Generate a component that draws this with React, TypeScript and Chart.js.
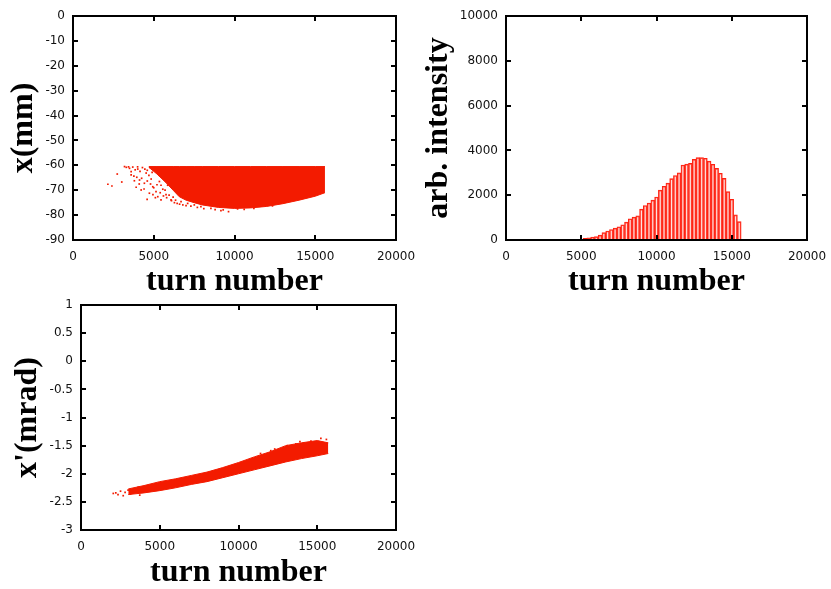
import React, { useEffect, useRef } from "react";
import { Chart, registerables } from "chart.js";

Chart.register(...registerables);

// ---------- data ----------
const RED = "#f31b00";

// Panel 1: x (mm) vs turn number — dense band edges + sparse points
const p1BandTurns = [4700, 5200, 5760, 6200, 6580, 7000, 7500, 8000, 9000, 10000, 11000, 12000, 13000, 14000, 15000, 15600];
const p1BandTop = [-60.5, -60.5, -60.5, -60.5, -60.5, -60.5, -60.5, -60.5, -60.5, -60.5, -60.5, -60.5, -60.5, -60.5, -60.5, -60.5];
const p1BandBottom = [-60.8, -63.5, -67, -70, -72.6, -74, -75, -75.9, -76.9, -77.3, -77.1, -76.5, -75.4, -74, -72.4, -71];
const p1SparseTurns = [
  2160, 2410, 2740, 3020, 3190, 3440, 3600, 3770, 3910, 4010, 4120, 4220, 4420, 4530, 4590, 4730, 4840, 4940, 5040, 5140,
  5250, 5350, 5450, 5560, 5620, 5760, 5860, 6070, 6280, 6520, 6690, 7100, 7510, 7920, 8540, 9160, 9630, 10190, 11520, 12350,
  3300, 3500, 3700, 3850, 4000, 4150, 4300, 4450, 4600, 4750, 4900, 3600, 3950, 4250, 4600, 4800, 5000, 5200, 5400, 5600,
  5700, 5800, 5950, 6100, 6200, 6350, 6450, 6600, 6800, 7000, 7300, 7700, 8100, 8800, 9300, 10600, 11200, 4400, 4100, 3800,
  5100, 4950, 5350, 5150, 4700, 5450,
];
const p1SparseX = [
  -67.6, -68.3, -63.5, -66.7, -60.5, -60.6, -62.5, -64.3, -68.8, -61.5, -65.9, -69.9, -67.2, -63.1, -73.7, -71.2, -65.5, -68.6, -61.9, -70.6,
  -72.6, -66.5, -73.9, -69.6, -65.2, -71.8, -68, -73.9, -75, -62.3, -74.6, -75.3, -75.9, -76.6, -77.3, -78.2, -78.6, -77.5, -75.9, -76.3,
  -60.8, -61.2, -60.7, -61.8, -60.6, -62.4, -60.9, -61.5, -62, -60.8, -62.8, -63.8, -64.8, -65.2, -66.3, -67.5, -69, -67.8, -71, -72.3,
  -70, -73, -72, -74.2, -72.8, -74, -75.3, -75.6, -75.9, -76.2, -76.4, -76.9, -77.4, -77.8, -77.9, -77.7, -77.3, -69.5, -67.5, -66.2,
  -73, -71.8, -64, -62.5, -64, -68,
];

// Panel 2: histogram, arb. intensity per bin of 250 turns
const histTurns = [5250, 5500, 5750, 6000, 6250, 6500, 6750, 7000, 7250, 7500, 7750, 8000, 8250, 8500, 8750, 9000, 9250, 9500, 9750, 10000, 10250, 10500, 10750, 11000, 11250, 11500, 11750, 12000, 12250, 12500, 12750, 13000, 13250, 13500, 13750, 14000, 14250, 14500, 14750, 15000, 15250, 15500];
const histCounts = [70, 100, 130, 150, 220, 330, 400, 470, 530, 590, 680, 800, 950, 1020, 1080, 1380, 1540, 1650, 1780, 1920, 2230, 2400, 2540, 2740, 2880, 3000, 3350, 3390, 3420, 3600, 3680, 3680, 3650, 3520, 3380, 3200, 2980, 2750, 2160, 1820, 1120, 820];

// Panel 3: x' (mrad) vs turn number
const p3BandTurns = [3000, 4000, 5000, 6000, 7000, 8000, 9000, 10000, 11000, 12000, 13000, 14000, 15000, 15700];
const p3BandTop = [-2.27, -2.21, -2.14, -2.09, -2.03, -1.97, -1.89, -1.8, -1.7, -1.61, -1.5, -1.45, -1.41, -1.45];
const p3BandBottom = [-2.37, -2.34, -2.3, -2.25, -2.19, -2.14, -2.07, -2, -1.93, -1.86, -1.79, -1.73, -1.68, -1.64];
const p3SparseTurns = [2050, 2210, 2510, 2680, 2990, 3140, 3350, 3630, 3730, 12050, 12690, 13640, 14170, 15230, 15580, 13100, 14600, 2800, 2350, 11400, 12300, 13900];
const p3SparseXp = [-2.35, -2.34, -2.31, -2.39, -2.29, -2.36, -2.32, -2.24, -2.38, -1.59, -1.6, -1.47, -1.46, -1.37, -1.39, -1.5, -1.42, -2.33, -2.37, -1.64, -1.56, -1.43];

// ---------- styling helpers ----------
const tickFont = { family: "'DejaVu Sans', sans-serif", size: 12 };
const titleFont = { family: "'Liberation Serif', 'DejaVu Serif', serif", size: 32, weight: "bold" as const, lineHeight: 1 };

const framePlugin = {
  id: "frame",
  afterDatasetsDraw(chart: any) {
    const { ctx, chartArea: a, scales } = chart;
    const L = 5;
    ctx.save();
    ctx.strokeStyle = "#000";
    ctx.lineWidth = 2;
    ctx.strokeRect(a.left, a.top, a.right - a.left, a.bottom - a.top);
    ctx.beginPath();
    scales.x.ticks.forEach((t: any) => {
      const px = Math.round(scales.x.getPixelForValue(t.value));
      ctx.moveTo(px, a.bottom);
      ctx.lineTo(px, a.bottom - L);
      ctx.moveTo(px, a.top);
      ctx.lineTo(px, a.top + L);
    });
    scales.y.ticks.forEach((t: any) => {
      const py = Math.round(scales.y.getPixelForValue(t.value));
      ctx.moveTo(a.left, py);
      ctx.lineTo(a.left + L, py);
      ctx.moveTo(a.right, py);
      ctx.lineTo(a.right - L, py);
    });
    ctx.stroke();
    ctx.restore();
  },
};

type Box = { w: number; h: number; left: number; top: number; right: number; bottom: number; yTitlePad: number };

function makeScales(box: Box, xTitle: string, yTitle: string, yMin: number, yMax: number, yStep: number) {
  return {
    x: {
      type: "linear",
      min: 0,
      max: 20000,
      offset: false,
      grid: { display: false, drawTicks: false },
      border: { display: false },
      ticks: {
        stepSize: 5000,
        padding: 10,
        font: tickFont,
        color: "#111",
        maxRotation: 0,
        autoSkip: false,
        callback: (v: any) => String(v),
      },
      title: { display: true, text: xTitle, font: titleFont, color: "#000", padding: 0 },
      afterFit: (s: any) => {
        s.height = box.h - box.bottom;
        s.paddingLeft = 0;
        s.paddingRight = 0;
      },
    },
    y: {
      type: "linear",
      min: yMin,
      max: yMax,
      grid: { display: false, drawTicks: false },
      border: { display: false },
      ticks: {
        stepSize: yStep,
        padding: 8,
        font: tickFont,
        color: "#111",
        autoSkip: false,
        callback: (v: any) => String(Math.round(v * 100) / 100),
      },
      title: { display: true, text: yTitle, font: titleFont, color: "#000", padding: { top: box.yTitlePad, bottom: 0 } },
      afterFit: (s: any) => {
        s.width = box.left;
        s.paddingTop = 0;
        s.paddingBottom = 0;
      },
    },
  };
}

function baseOptions(box: Box, scales: any) {
  return {
    responsive: false,
    animation: false,
    devicePixelRatio: 1,
    layout: { padding: { top: box.top, right: box.w - box.right, left: 0, bottom: 0 } },
    plugins: { legend: { display: false }, tooltip: { enabled: false } },
    scales,
  };
}

function pts(xs: number[], ys: number[]) {
  return xs.map((x, i) => ({ x, y: ys[i] }));
}

function bandDatasets(xs: number[], top: number[], bottom: number[]) {
  return [
    {
      type: "line",
      data: pts(xs, top),
      borderColor: RED,
      borderWidth: 1,
      backgroundColor: RED,
      pointRadius: 0,
      tension: 0,
      fill: false,
    },
    {
      type: "line",
      data: pts(xs, bottom),
      borderColor: RED,
      borderWidth: 1,
      backgroundColor: RED,
      pointRadius: 0,
      tension: 0,
      fill: "-1",
    },
  ];
}

const box1: Box = { w: 420, h: 298, left: 73, top: 16, right: 396, bottom: 240, yTitlePad: 8 };
const box2: Box = { w: 411, h: 298, left: 86, top: 16, right: 387, bottom: 240, yTitlePad: 3 };
const box3: Box = { w: 420, h: 294, left: 81, top: 10, right: 396, bottom: 235, yTitlePad: 12 };

function useChart(ref: React.RefObject<HTMLCanvasElement>, makeConfig: () => any) {
  useEffect(() => {
    if (!ref.current) return;
    const chart = new Chart(ref.current, makeConfig());
    return () => chart.destroy();
  }, []);
}

export default function App() {
  const c1 = useRef<HTMLCanvasElement>(null);
  const c2 = useRef<HTMLCanvasElement>(null);
  const c3 = useRef<HTMLCanvasElement>(null);

  useChart(c1, () => ({
    type: "scatter",
    data: {
      datasets: [
        ...bandDatasets(p1BandTurns, p1BandTop, p1BandBottom),
        {
          data: pts(p1SparseTurns, p1SparseX),
          pointStyle: "rect",
          pointRadius: 1.2,
          backgroundColor: RED,
          borderWidth: 0,
        },
      ],
    },
    options: baseOptions(box1, makeScales(box1, "turn number", "x(mm)", -90, 0, 10)),
    plugins: [framePlugin],
  }));

  useChart(c2, () => ({
    type: "bar",
    data: {
      datasets: [
        {
          data: pts(histTurns, histCounts),
          backgroundColor: "rgba(255,170,160,0.35)",
          borderColor: "#ff2010",
          borderWidth: 1,
          barPercentage: 1,
          categoryPercentage: 1,
        },
      ],
    },
    options: baseOptions(box2, makeScales(box2, "turn number", "arb. intensity", 0, 10000, 2000)),
    plugins: [framePlugin],
  }));

  useChart(c3, () => ({
    type: "scatter",
    data: {
      datasets: [
        ...bandDatasets(p3BandTurns, p3BandTop, p3BandBottom),
        {
          data: pts(p3SparseTurns, p3SparseXp),
          pointStyle: "rect",
          pointRadius: 1.2,
          backgroundColor: RED,
          borderWidth: 0,
        },
      ],
    },
    options: baseOptions(box3, makeScales(box3, "turn number", "x'(mrad)", -3, 1, 0.5)),
    plugins: [framePlugin],
  }));

  return (
    <div style={{ position: "absolute", left: 0, top: 0, width: 831, height: 589, background: "#fff" }}>
      <canvas ref={c1} width={box1.w} height={box1.h} style={{ position: "absolute", left: 0, top: 0 }} />
      <canvas ref={c2} width={box2.w} height={box2.h} style={{ position: "absolute", left: 420, top: 0 }} />
      <canvas ref={c3} width={box3.w} height={box3.h} style={{ position: "absolute", left: 0, top: 295 }} />
    </div>
  );
}
